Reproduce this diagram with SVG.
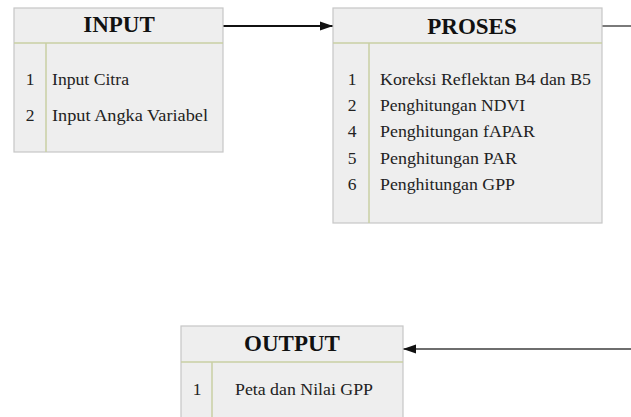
<svg xmlns="http://www.w3.org/2000/svg" width="631" height="417" viewBox="0 0 631 417">
  <style>
    .box { fill: #eeeeee; stroke: #c6c6c6; stroke-width: 1.2; }
    .sep { stroke: #c8cfa3; stroke-width: 1.5; fill: none; }
    .hdr { font-family: "Liberation Serif", "Times New Roman", serif; font-weight: bold; font-size: 23px; fill: #111; text-anchor: middle; }
    .item { font-family: "Liberation Serif", "Times New Roman", serif; font-size: 17.5px; fill: #222; }
    .num { font-family: "Liberation Serif", "Times New Roman", serif; font-size: 17.5px; fill: #222; text-anchor: middle; }
    .conn { fill: none; stroke-width: 2; }
  </style>
  <defs>
    <marker id="ah" markerUnits="userSpaceOnUse" markerWidth="14" markerHeight="10" refX="13" refY="5" orient="auto">
      <path d="M0,0.5 L13,5 L0,9.5 Z" fill="#111"/>
    </marker>
  </defs>
  <rect width="631" height="417" fill="#ffffff"/>

  <g id="connectors">
    <line class="conn" x1="223" y1="26" x2="333" y2="26" stroke="#111" marker-end="url(#ah)"/>
    <line class="conn" x1="602" y1="26" x2="631" y2="26" stroke="#7a7a7a"/>
    <line class="conn" x1="631" y1="349" x2="403" y2="349" stroke="#6e6e6e" marker-end="url(#ah)"/>
  </g>

  <g id="input">
    <rect class="box" x="14" y="8" width="209" height="144"/>
    <line class="sep" x1="14" y1="43" x2="223" y2="43"/>
    <line class="sep" x1="46" y1="43" x2="46" y2="152"/>
    <text class="hdr" x="119" y="32">INPUT</text>
    <text class="num" x="30" y="85">1</text>
    <text class="item" x="52" y="85" textLength="77" lengthAdjust="spacingAndGlyphs">Input Citra</text>
    <text class="num" x="30" y="121">2</text>
    <text class="item" x="52" y="121" textLength="156" lengthAdjust="spacingAndGlyphs">Input Angka Variabel</text>
  </g>

  <g id="proses">
    <rect class="box" x="333" y="8" width="269" height="215"/>
    <line class="sep" x1="333" y1="43" x2="602" y2="43"/>
    <line class="sep" x1="369" y1="43" x2="369" y2="223"/>
    <text class="hdr" x="472" y="34">PROSES</text>
    <text class="num" x="352" y="85">1</text>
    <text class="item" x="380" y="85" textLength="211" lengthAdjust="spacingAndGlyphs">Koreksi Reflektan B4 dan B5</text>
    <text class="num" x="352" y="111">2</text>
    <text class="item" x="380" y="111" textLength="145" lengthAdjust="spacingAndGlyphs">Penghitungan NDVI</text>
    <text class="num" x="352" y="137">4</text>
    <text class="item" x="380" y="137" textLength="155" lengthAdjust="spacingAndGlyphs">Penghitungan fAPAR</text>
    <text class="num" x="352" y="164">5</text>
    <text class="item" x="380" y="164" textLength="137" lengthAdjust="spacingAndGlyphs">Penghitungan PAR</text>
    <text class="num" x="352" y="190">6</text>
    <text class="item" x="380" y="190" textLength="135" lengthAdjust="spacingAndGlyphs">Penghitungan GPP</text>
  </g>

  <g id="output">
    <rect class="box" x="181" y="326" width="222" height="110"/>
    <line class="sep" x1="181" y1="362" x2="403" y2="362"/>
    <line class="sep" x1="212" y1="362" x2="212" y2="417"/>
    <text class="hdr" x="292" y="351">OUTPUT</text>
    <text class="num" x="197" y="395">1</text>
    <text class="item" x="235" y="395" textLength="138" lengthAdjust="spacingAndGlyphs">Peta dan Nilai GPP</text>
  </g>
</svg>
